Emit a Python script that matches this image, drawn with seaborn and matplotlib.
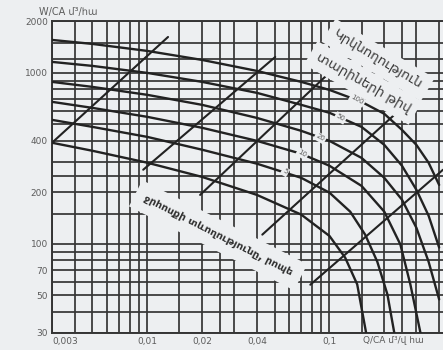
import matplotlib
matplotlib.use("Agg")
import matplotlib.pyplot as plt
from matplotlib.ticker import FixedLocator, FixedFormatter, NullFormatter
import pandas as pd
import seaborn as sns

BG = "#edeff1"
INK = "#222222"
GRID = "#353535"
TXT = "#5c5c5c"

# return-period curves, Q/CA against W/CA
q_std = [0.003, 0.005, 0.01, 0.02, 0.04, 0.07, 0.1, 0.15, 0.2, 0.25, 0.3, 0.35, 0.4]
w_100 = [1560, 1478, 1345, 1191, 1027, 886, 795, 677, 576, 464, 379, 298, 221]
w_50 = [1160, 1099, 1000, 886, 764, 650, 584, 483, 379, 286, 207, 146, 95]
w_20 = [886, 828, 744, 650, 545, 458, 400, 318, 243, 181, 124, 78.5, 47.2]
q_10 = [0.003, 0.005, 0.01, 0.02, 0.04, 0.07, 0.1, 0.15, 0.2, 0.245, 0.278, 0.316]
w_10 = [677, 624, 553, 477, 400, 336, 286, 218, 154, 99, 57.8, 30]
q_5 = [0.003, 0.005, 0.01, 0.02, 0.04, 0.07, 0.1, 0.13, 0.157, 0.183, 0.208, 0.227]
w_5 = [531, 483, 422, 355, 294, 243, 199, 154, 113, 78.5, 50.5, 30]
q_low = [0.003, 0.005, 0.01, 0.02, 0.04, 0.07, 0.1, 0.122, 0.142, 0.159]
w_low = [390, 350, 298, 246, 193, 148, 111, 82.8, 57.8, 30]

# straight lines of runoff duration (start, end)
dur_q = [(0.003, 0.013), (0.0095, 0.0504), (0.0195, 0.101), (0.0428, 0.261), (0.0785, 0.42)]
dur_w = [(390, 1623), (271, 1240), (193, 1013), (113, 650), (57.5, 271)]

# curve labels (period, Q, W)
lab_text = ["100", "50", "20", "10", "5"]
lab_q = [0.142, 0.1147, 0.089, 0.0709, 0.057]
lab_w = [695, 545, 417, 336, 264]

x_major = [0.003, 0.01, 0.02, 0.04, 0.1]
x_major_lab = ["0,003", "0,01", "0,02", "0,04", "0,1"]
x_minor = [0.004, 0.005, 0.006, 0.007, 0.008, 0.009, 0.015, 0.025, 0.03,
           0.05, 0.06, 0.07, 0.08, 0.09, 0.15, 0.2, 0.25, 0.3, 0.4]
y_major = [30, 50, 70, 100, 200, 400, 1000, 2000]
y_minor = [40, 60, 80, 90, 150, 250, 300, 500, 600, 700, 800, 900, 1200, 1500]

sns.set_style("white")
plt.rcParams["font.family"] = ["DejaVu Sans"]

curves = [("100", q_std, w_100), ("50", q_std, w_50), ("20", q_std, w_20),
          ("10", q_10, w_10), ("5", q_5, w_5), ("low", q_low, w_low)]
rows = []
for name, qs, ws in curves:
    for q, w in zip(qs, ws):
        rows.append({"curve": name, "Q": q, "W": w})
df = pd.DataFrame(rows)

dur_rows = []
for i, (qs, ws) in enumerate(zip(dur_q, dur_w)):
    for q, w in zip(qs, ws):
        dur_rows.append({"line": i, "Q": q, "W": w})
dur_df = pd.DataFrame(dur_rows)

fig = plt.figure(figsize=(4.43, 3.5), dpi=100, facecolor=BG)
ax = fig.add_axes([0.1174, 0.0486, 0.8826, 0.89])
ax.set_facecolor(BG)
ax.set_xscale("log")
ax.set_yscale("log")

sns.lineplot(data=df, x="Q", y="W", units="curve", estimator=None, sort=False,
             color=INK, lw=1.7, ax=ax, zorder=3)
sns.lineplot(data=dur_df, x="Q", y="W", units="line", estimator=None, sort=False,
             color=INK, lw=1.5, ax=ax, zorder=3)

ax.set_xlim(0.003, 0.42)
ax.set_ylim(30, 2000)

ax.xaxis.set_major_locator(FixedLocator(x_major))
ax.xaxis.set_major_formatter(FixedFormatter(x_major_lab))
ax.xaxis.set_minor_locator(FixedLocator(x_minor))
ax.xaxis.set_minor_formatter(NullFormatter())
ax.yaxis.set_major_locator(FixedLocator(y_major))
ax.yaxis.set_major_formatter(FixedFormatter([str(v) for v in y_major]))
ax.yaxis.set_minor_locator(FixedLocator(y_minor))
ax.yaxis.set_minor_formatter(NullFormatter())
ax.grid(True, which="both", color=GRID, lw=1.25, zorder=1)
ax.tick_params(which="both", length=0, labelsize=6.5, labelcolor=TXT, pad=3)
ax.get_xticklabels()[0].set_ha("left")
ax.set_xlabel("")
ax.set_ylabel("")
for side in ["left", "bottom", "top"]:
    ax.spines[side].set_color(GRID)
    ax.spines[side].set_linewidth(1.4)
ax.spines["right"].set_visible(False)

box = dict(facecolor=BG, edgecolor="none", pad=1.0)
for t, q, w in zip(lab_text, lab_q, lab_w):
    ax.text(q, w, t, fontsize=5, color=TXT, rotation=-30, ha="center", va="center",
            bbox=box, zorder=4)

big_box = dict(facecolor=BG, edgecolor="none", pad=5)
ax.text(0.185, 1191, "Կրկնողություն", fontsize=9.5, color="#3c3c3c", rotation=-31,
        ha="center", va="center", bbox=big_box, zorder=4)
ax.text(0.153, 874, "տարիների թիվ", fontsize=9.5, color="#3c3c3c", rotation=-30,
        ha="center", va="center", bbox=big_box, zorder=4)
ax.text(0.0245, 112, "ջրհոսքի տևողությունը, րոպե", fontsize=7.5, fontweight="bold",
        color="#2e2e2e", rotation=-27, ha="center", va="center",
        bbox=dict(facecolor=BG, edgecolor="none", pad=7), zorder=4)

fig.text(0.088, 0.966, "W/CA մ³/հա", fontsize=7, color=TXT, va="center")
fig.text(0.819, 0.029, "Q/CA մ³/վ հա", fontsize=6.5, color=TXT, va="center")

fig.savefig("out.png", dpi=100, facecolor=BG)
